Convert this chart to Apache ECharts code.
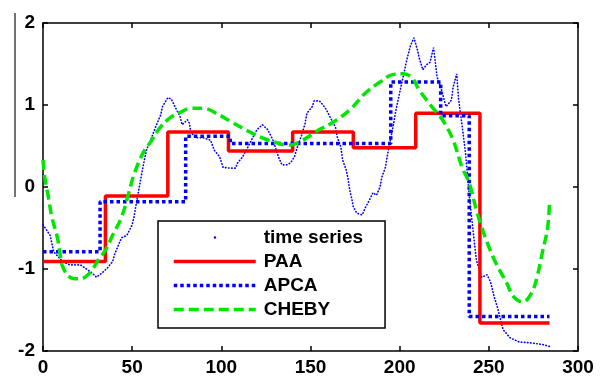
<!DOCTYPE html>
<html>
<head>
<meta charset="utf-8">
<script src="https://cdn.jsdelivr.net/npm/echarts@6/dist/echarts.min.js"></script>
<style>
  html, body { margin: 0; padding: 0; background: #fff; }
  #chart { width: 602px; height: 381px; }
</style>
</head>
<body>
<div id="chart"></div>
<script>
// time series samples
var tsX = [0, 4, 6, 11, 15, 21, 25, 27, 30, 33, 36, 39, 40, 44, 47, 50, 51, 52, 54, 56, 58, 61, 64, 66, 67, 70, 72, 74, 77, 78, 81, 82, 83, 86, 90, 94, 96, 99, 101, 105, 108, 109, 112, 115, 118, 120, 123, 126, 129, 132, 134, 137, 139, 141, 143, 145, 147, 148, 151, 152, 155, 157, 159, 161, 164, 165, 167, 168, 170, 171, 172, 173, 174, 176, 179, 180, 181, 183, 185, 187, 189, 190, 192, 193, 194, 196, 198, 200, 202, 204, 206, 208, 210, 211, 213, 215, 217, 219, 221, 223, 226, 229, 230, 232, 233, 235, 237, 239, 241, 243, 246, 249, 251, 253, 255, 258, 262, 267, 273, 280, 285];
var tsY = [-0.46, -0.59, -0.79, -0.91, -0.95, -0.95, -1.01, -1.04, -1.10, -1.05, -0.99, -0.91, -0.83, -0.62, -0.59, -0.46, -0.37, -0.24, 0.0, 0.24, 0.45, 0.61, 0.78, 0.88, 0.98, 1.09, 1.07, 0.98, 0.85, 0.76, 0.82, 0.78, 0.66, 0.6, 0.6, 0.57, 0.45, 0.37, 0.24, 0.23, 0.23, 0.29, 0.37, 0.49, 0.62, 0.70, 0.76, 0.70, 0.57, 0.37, 0.27, 0.27, 0.30, 0.37, 0.51, 0.63, 0.78, 0.90, 0.98, 1.05, 1.05, 1.0, 0.94, 0.85, 0.73, 0.61, 0.49, 0.33, 0.21, 0.11, -0.04, -0.13, -0.24, -0.32, -0.34, -0.32, -0.24, -0.16, -0.07, -0.10, 0.0, 0.12, 0.24, 0.37, 0.49, 0.7, 0.95, 1.15, 1.35, 1.55, 1.72, 1.82, 1.67, 1.57, 1.43, 1.49, 1.52, 1.7, 1.34, 1.22, 0.98, 1.06, 1.22, 1.38, 1.08, 0.75, 0.4, -0.1, -0.5, -0.89, -1.1, -1.07, -1.16, -1.34, -1.48, -1.74, -1.84, -1.89, -1.9, -1.92, -1.95];

// PAA: segment edges and levels
var paaEdges = [0, 35, 70, 104, 140, 174, 209, 245, 284];
var paaValues = [-0.91, -0.11, 0.67, 0.44, 0.67, 0.48, 0.90, -1.66];

// APCA: segment edges and levels
var apcaEdges = [0, 32, 80, 105, 195, 223, 239, 284];
var apcaValues = [-0.79, -0.18, 0.62, 0.53, 1.28, 0.87, -1.58];

// CHEBY curve samples
var chebyX = [0, 1, 3, 5, 8, 9.5, 11, 15, 19, 23.5, 27.5, 31, 35, 39, 44, 48, 51, 56, 61, 65.5, 71, 77, 83, 90, 97, 106, 116, 123, 131, 138, 144, 155, 162, 172, 181, 189, 196, 202, 207, 211, 218, 224, 230, 235, 239, 243, 246, 250, 254, 260, 264, 269, 274, 277, 280, 283, 284];
var chebyY = [0.33, 0.12, -0.12, -0.37, -0.61, -0.81, -0.97, -1.10, -1.12, -1.10, -1.01, -0.89, -0.77, -0.59, -0.37, -0.08, 0.15, 0.41, 0.57, 0.72, 0.84, 0.91, 0.96, 0.96, 0.9, 0.79, 0.67, 0.6, 0.54, 0.51, 0.55, 0.70, 0.78, 0.94, 1.15, 1.28, 1.37, 1.38, 1.33, 1.18, 0.98, 0.82, 0.57, 0.24, 0.05, -0.28, -0.49, -0.73, -0.93, -1.17, -1.34, -1.40, -1.29, -1.10, -0.80, -0.49, -0.18];

var xTicks = { min: 0, max: 300, interval: 50 };
var yTicks = { min: -2, max: 2, interval: 1 };

function zip(xs, ys) {
  return xs.map(function (x, i) { return [x, ys[i]]; });
}
// step data: each level starts at its edge, last edge closes the final level
function steps(edges, values) {
  return edges.map(function (e, i) {
    return [e, values[Math.min(i, values.length - 1)]];
  });
}

var chart = echarts.init(document.getElementById('chart'));

var font = 'Liberation Sans, Arial, sans-serif';
var axisCommon = {
  type: 'value',
  axisLine: { show: true, onZero: false, lineStyle: { color: '#000', width: 1.5 } },
  axisTick: { show: true, inside: true, length: 5, lineStyle: { color: '#000', width: 1.5 } },
  splitLine: { show: false }
};
// legend shows only the line, no marker
var noMarker = { opacity: 0 };

chart.setOption({
  animation: false,
  backgroundColor: '#fff',
  grid: { left: 43, right: 24, top: 23, bottom: 30, containLabel: false },
  xAxis: [
    Object.assign({}, axisCommon, {
      position: 'bottom', min: xTicks.min, max: xTicks.max, interval: xTicks.interval,
      axisLabel: { margin: 7, color: '#000', fontSize: 19, fontWeight: 'bold', fontFamily: font }
    }),
    Object.assign({}, axisCommon, {
      position: 'top', min: xTicks.min, max: xTicks.max, interval: xTicks.interval,
      axisLabel: { show: false }
    })
  ],
  yAxis: [
    Object.assign({}, axisCommon, {
      position: 'left', min: yTicks.min, max: yTicks.max, interval: yTicks.interval,
      axisLabel: { margin: 8, color: '#000', fontSize: 19, fontWeight: 'bold', fontFamily: font }
    }),
    Object.assign({}, axisCommon, {
      position: 'right', min: yTicks.min, max: yTicks.max, interval: yTicks.interval,
      axisLabel: { show: false }
    })
  ],
  legend: {
    orient: 'vertical',
    left: 158,
    top: 221,
    padding: [7, 22, 9, 14],
    itemWidth: 82,
    itemHeight: 14,
    itemGap: 5,
    borderColor: '#000',
    borderWidth: 1.5,
    backgroundColor: '#fff',
    textStyle: { color: '#000', fontSize: 19, fontWeight: 'bold', fontFamily: font, padding: [0, 0, 0, 3] },
    data: [
      { name: 'time series', icon: 'path://M0,0M40,7a1.2,1.2 0 1,0 2.4,0a1.2,1.2 0 1,0 -2.4,0M82,14', itemStyle: { color: '#0000ff', borderWidth: 0 } },
      { name: 'PAA', itemStyle: noMarker, lineStyle: { width: 3.5 } },
      { name: 'APCA', itemStyle: noMarker, lineStyle: { width: 3.5 } },
      { name: 'CHEBY', itemStyle: noMarker, lineStyle: { width: 3.5 } }
    ]
  },
  graphic: [
    { type: 'line', shape: { x1: 15, y1: 13, x2: 15, y2: 197 }, style: { stroke: '#444', lineWidth: 1.5 } }
  ],
  series: [
    {
      name: 'time series', type: 'line', symbol: 'none', z: 2,
      data: zip(tsX, tsY),
      itemStyle: { color: '#0000ff' },
      lineStyle: { color: '#0000ff', width: 1.6, type: [0.5, 2.6], cap: 'round' }
    },
    {
      name: 'PAA', type: 'line', symbol: 'none', step: 'end', z: 3,
      data: steps(paaEdges, paaValues),
      itemStyle: { color: '#ff0000' },
      lineStyle: { color: '#ff0000', width: 3.5 }
    },
    {
      name: 'APCA', type: 'line', symbol: 'none', step: 'end', z: 4,
      data: steps(apcaEdges, apcaValues),
      itemStyle: { color: '#0000ff' },
      lineStyle: { color: '#0000ff', width: 3.5, type: [3.5, 3] }
    },
    {
      name: 'CHEBY', type: 'line', symbol: 'none', smooth: 0.4, z: 5,
      data: zip(chebyX, chebyY),
      itemStyle: { color: '#00e600' },
      lineStyle: { color: '#00e600', width: 3.5, type: [10, 5] }
    }
  ]
});
</script>
</body>
</html>
